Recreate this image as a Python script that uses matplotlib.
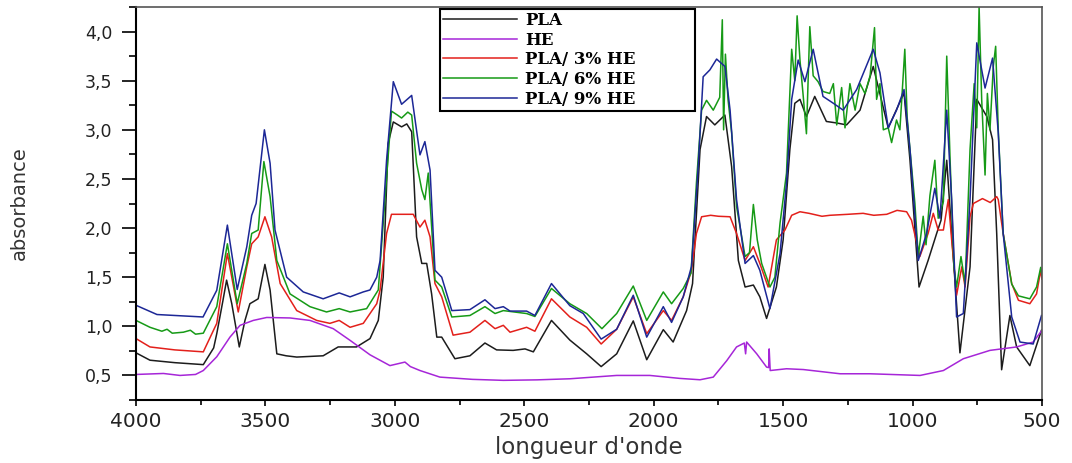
import matplotlib
matplotlib.use("Agg")
import matplotlib.pyplot as plt
from matplotlib.ticker import MultipleLocator, FuncFormatter

# FTIR spectra (wavenumber cm-1, absorbance)
pla_wn = [4000, 3946, 3850, 3740, 3700, 3688, 3665, 3650, 3630, 3601, 3579, 3560, 3528, 3502,
          3482, 3456, 3420, 3379, 3277, 3219, 3148, 3096, 3064, 3045, 3026, 3006, 2974, 2954,
          2935, 2916, 2896, 2877, 2858, 2838, 2819, 2768, 2710, 2652, 2607, 2543, 2497, 2465,
          2395, 2324, 2259, 2203, 2143, 2079, 2027, 1963, 1925, 1873, 1850, 1821, 1796, 1764,
          1725, 1699, 1673, 1647, 1615, 1590, 1564, 1526, 1500, 1474, 1455, 1435, 1410, 1378,
          1333, 1294, 1255, 1203, 1152, 1094, 1033, 1010, 975, 940, 907, 890, 868, 849,
          817, 778, 752, 713, 691, 675, 656, 624, 598, 547, 502]
pla_abs = [0.73, 0.655, 0.63, 0.61, 0.78, 0.925, 1.25, 1.47, 1.23, 0.79, 1.06, 1.23, 1.28, 1.63,
           1.37, 0.72, 0.70, 0.687, 0.70, 0.79, 0.79, 0.875, 1.06, 1.50, 2.86, 3.08, 3.03, 3.06,
           2.98, 1.91, 1.64, 1.64, 1.33, 0.89, 0.89, 0.67, 0.70, 0.83, 0.76, 0.755, 0.77, 0.74,
           1.06, 0.86, 0.72, 0.59, 0.72, 1.055, 0.66, 0.966, 0.84, 1.16, 1.435, 2.80, 3.135, 3.05,
           3.15, 2.625, 1.67, 1.40, 1.42, 1.30, 1.08, 1.40, 1.88, 2.80, 3.27, 3.31, 3.135, 3.34,
           3.085, 3.07, 3.05, 3.20, 3.645, 3.02, 3.375, 2.69, 1.40, 1.67, 1.945, 2.08, 2.69, 1.945,
           0.73, 1.605, 3.31, 3.135, 2.90, 1.945, 0.558, 1.11, 0.79, 0.60, 0.96]

he_wn = [4000, 3894, 3830, 3770, 3740, 3688, 3637, 3598, 3547, 3495, 3405, 3328, 3238, 3173,
         3096, 3019, 2961, 2940, 2903, 2826, 2700, 2581, 2450, 2324, 2143, 2015, 1900, 1821,
         1770, 1718, 1680, 1650, 1645, 1641, 1602, 1564, 1556, 1554, 1550, 1487, 1422, 1280,
         1165, 971, 881, 804, 701, 598, 534, 500]
he_abs = [0.51, 0.52, 0.50, 0.51, 0.55, 0.69, 0.89, 1.01, 1.06, 1.09, 1.085, 1.06, 0.976, 0.857,
          0.71, 0.60, 0.636, 0.59, 0.55, 0.483, 0.46, 0.45, 0.455, 0.466, 0.50, 0.50, 0.47, 0.456,
          0.483, 0.65, 0.79, 0.83, 0.72, 0.84, 0.72, 0.585, 0.58, 0.77, 0.55, 0.568, 0.56, 0.517,
          0.517, 0.50, 0.55, 0.67, 0.755, 0.79, 0.84, 0.96]

he3_wn = [4000, 3946, 3850, 3740, 3688, 3647, 3605, 3572, 3553, 3528, 3502, 3476, 3443, 3379,
          3302, 3251, 3215, 3173, 3122, 3070, 3057, 3032, 3013, 2929, 2903, 2884, 2864, 2845,
          2819, 2775, 2710, 2652, 2613, 2581, 2555, 2491, 2459, 2395, 2324, 2259, 2203, 2143,
          2079, 2027, 1963, 1931, 1886, 1854, 1835, 1815, 1780, 1750, 1705, 1680, 1647, 1615,
          1590, 1558, 1526, 1493, 1467, 1435, 1400, 1350, 1319, 1250, 1191, 1150, 1100, 1060,
          1023, 1004, 972, 940, 920, 901, 881, 862, 849, 830, 810, 797, 778, 765,
          730, 700, 675, 669, 650, 617, 591, 547, 521, 505, 500]
he3_abs = [0.875, 0.79, 0.76, 0.74, 1.03, 1.74, 1.146, 1.605, 1.84, 1.91, 2.115, 1.91, 1.435, 1.16,
           1.06, 1.03, 1.06, 0.99, 1.03, 1.23, 1.37, 1.945, 2.14, 2.14, 2.01, 2.08, 1.91, 1.435,
           1.30, 0.91, 0.94, 1.06, 0.976, 1.01, 0.94, 0.99, 0.95, 1.28, 1.095, 0.99, 0.82, 0.97,
           1.30, 0.925, 1.16, 1.06, 1.30, 1.57, 1.945, 2.115, 2.13, 2.12, 2.115, 1.945, 1.67, 1.81,
           1.64, 1.40, 1.88, 1.98, 2.13, 2.166, 2.15, 2.12, 2.13, 2.14, 2.15, 2.13, 2.14, 2.18,
           2.166, 2.08, 1.71, 1.945, 2.15, 1.98, 1.98, 2.29, 1.88, 1.316, 1.605, 1.40, 2.115, 2.25,
           2.30, 2.26, 2.32, 2.29, 1.945, 1.435, 1.265, 1.23, 1.33, 1.57, 1.48]

he6_wn = [4000, 3946, 3900, 3880, 3860, 3817, 3790, 3770, 3740, 3688, 3647, 3609, 3572, 3553,
          3528, 3506, 3482, 3456, 3405, 3328, 3264, 3215, 3173, 3109, 3064, 3032, 3013, 2990,
          2974, 2950, 2935, 2916, 2896, 2884, 2871, 2858, 2845, 2819, 2780, 2710, 2652, 2613,
          2581, 2491, 2459, 2395, 2324, 2259, 2200, 2143, 2079, 2027, 1963, 1931, 1886, 1856,
          1835, 1815, 1796, 1770, 1745, 1735, 1730, 1723, 1713, 1699, 1680, 1647, 1630, 1615,
          1600, 1583, 1551, 1532, 1512, 1487, 1467, 1455, 1446, 1435, 1422, 1410, 1397, 1384,
          1365, 1346, 1320, 1306, 1293, 1274, 1261, 1242, 1222, 1203, 1184, 1164, 1147, 1139,
          1126, 1113, 1094, 1081, 1062, 1049, 1030, 1021, 1010, 991, 978, 959, 948, 933,
          914, 901, 881, 868, 855, 840, 830, 813, 797, 778, 762, 752, 743, 733,
          720, 711, 701, 688, 679, 669, 650, 617, 591, 547, 521, 505, 500]
he6_abs = [1.06, 0.99, 0.95, 0.97, 0.93, 0.94, 0.96, 0.92, 0.93, 1.20, 1.84, 1.23, 1.64, 1.945,
           1.98, 2.677, 2.32, 1.67, 1.33, 1.20, 1.146, 1.18, 1.146, 1.18, 1.37, 2.52, 3.19, 3.15,
           3.12, 3.18, 3.15, 2.66, 2.39, 2.29, 2.56, 2.01, 1.47, 1.40, 1.095, 1.11, 1.20, 1.13,
           1.16, 1.13, 1.10, 1.385, 1.23, 1.13, 0.976, 1.13, 1.41, 1.06, 1.35, 1.23, 1.385, 1.54,
           2.46, 3.20, 3.30, 3.20, 3.33, 4.12, 3.0, 3.77, 3.31, 2.97, 2.22, 1.71, 1.75, 2.24,
           1.88, 1.64, 1.40, 1.50, 2.05, 2.56, 3.82, 3.50, 4.16, 3.71, 3.33, 2.96, 4.05, 3.55,
           3.49, 3.39, 3.37, 3.47, 3.05, 3.43, 3.02, 3.47, 3.20, 3.47, 3.37, 3.55, 4.04, 3.31,
           3.47, 3.0, 3.02, 2.87, 3.10, 3.0, 3.82, 3.13, 2.80, 2.25, 1.71, 2.12, 1.83, 2.33,
           2.69, 2.10, 2.27, 3.75, 2.69, 1.60, 1.40, 1.71, 1.43, 2.80, 3.47, 3.02, 4.25, 3.31,
           2.54, 3.37, 3.0, 3.65, 3.85, 3.0, 1.945, 1.43, 1.31, 1.28, 1.40, 1.60, 1.52]

he9_wn = [4000, 3919, 3741, 3688, 3647, 3609, 3572, 3553, 3536, 3504, 3482, 3463, 3418, 3354,
          3277, 3215, 3173, 3122, 3096, 3070, 3057, 3032, 3006, 2974, 2935, 2903, 2884, 2864,
          2845, 2819, 2780, 2710, 2652, 2613, 2581, 2555, 2491, 2459, 2395, 2324, 2272, 2203,
          2143, 2079, 2027, 1963, 1931, 1886, 1854, 1828, 1809, 1783, 1757, 1725, 1705, 1680,
          1647, 1615, 1590, 1551, 1512, 1487, 1467, 1442, 1416, 1384, 1346, 1306, 1268, 1216,
          1152, 1126, 1094, 1062, 1033, 1010, 978, 946, 914, 894, 868, 849, 830, 804,
          778, 752, 720, 691, 669, 650, 617, 585, 534, 502]
he9_abs = [1.214, 1.12, 1.095, 1.367, 2.03, 1.375, 1.81, 2.13, 2.25, 3.0, 2.66, 1.98, 1.50, 1.35,
           1.28, 1.34, 1.30, 1.35, 1.37, 1.50, 1.67, 2.69, 3.49, 3.26, 3.35, 2.745, 2.88, 2.59,
           1.57, 1.50, 1.16, 1.17, 1.27, 1.18, 1.20, 1.155, 1.155, 1.11, 1.435, 1.21, 1.13, 0.87,
           0.97, 1.316, 0.89, 1.20, 1.04, 1.30, 1.61, 2.63, 3.54, 3.61, 3.72, 3.645, 3.20, 2.29,
           1.64, 1.72, 1.57, 1.18, 1.74, 2.46, 3.31, 3.71, 3.49, 3.82, 3.34, 3.27, 3.20, 3.41,
           3.82, 3.58, 3.02, 3.20, 3.41, 2.80, 1.67, 1.945, 2.405, 2.10, 3.20, 2.29, 1.095, 1.13,
           2.29, 3.885, 3.425, 3.73, 2.97, 1.945, 1.095, 0.84, 0.82, 1.11]

labels = ["PLA", "HE", "PLA/ 3% HE", "PLA/ 6% HE", "PLA/ 9% HE"]
colors = ["#1c1c1c", "#a626d8", "#e3201b", "#169a16", "#1c2796"]

fig = plt.figure(figsize=(10.72, 4.63), dpi=100)
ax = fig.add_axes([136 / 1072, 63 / 463, 906 / 1072, 393 / 463])

series = [(pla_wn, pla_abs), (he_wn, he_abs), (he3_wn, he3_abs), (he6_wn, he6_abs), (he9_wn, he9_abs)]
for (wn, a), lab, col in zip(series, labels, colors):
    ax.plot(wn, a, color=col, lw=1.1, label=lab)

ax.set_xlim(4000, 500)
ax.set_ylim(0.25, 4.25)
ax.xaxis.set_major_locator(MultipleLocator(500))
ax.xaxis.set_minor_locator(MultipleLocator(250))
ax.yaxis.set_minor_locator(MultipleLocator(0.25))
ax.set_yticks([0.5, 1.0, 1.5, 2.0, 2.5, 3.0, 3.5, 4.0])
ax.yaxis.set_major_formatter(FuncFormatter(lambda v, p: f"{v:.1f}".replace(".", ",")))
ax.tick_params(which="both", direction="out", top=False, right=False, width=1.2)
ax.tick_params(axis="x", which="major", length=4.5, labelsize=14.5, labelcolor="#222222", pad=4)
ax.tick_params(axis="x", which="minor", length=3.5)
ax.tick_params(axis="y", which="major", length=10, labelsize=12.5, labelcolor="#222222", pad=7)
ax.tick_params(axis="y", which="minor", length=5)
for side in ("left", "bottom"):
    ax.spines[side].set_linewidth(1.5)
for side in ("top", "right"):
    ax.spines[side].set_linewidth(1.2)
    ax.spines[side].set_color("#555555")

ax.set_xlabel("longueur d'onde", fontsize=16.5, color="#333333", labelpad=4)
ax.yaxis.set_label_coords(-0.118, 0.5)
ax.set_ylabel("absorbance", fontsize=14, color="#333333")

leg = ax.legend(loc="upper left", bbox_to_anchor=(0.3355, 0.0, 0.2815, 0.995), mode="expand",
                borderaxespad=0, prop={"family": "DejaVu Serif", "weight": "bold", "size": 12},
                handlelength=4.45, handletextpad=0.48, labelspacing=0.16, borderpad=0.18,
                fancybox=False, framealpha=1, edgecolor="black")
leg.get_frame().set_linewidth(1.5)

fig.savefig("out.png", dpi=100)
